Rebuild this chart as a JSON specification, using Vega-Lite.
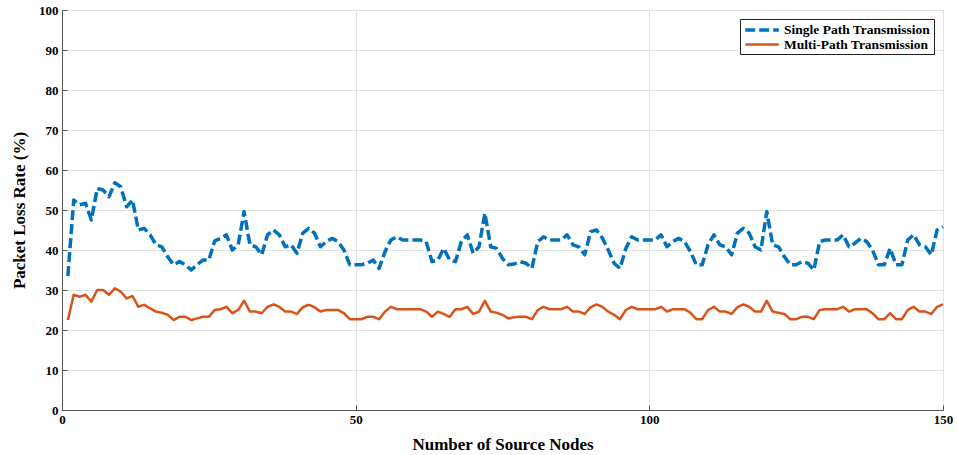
{
  "$schema": "https://vega.github.io/schema/vega-lite/v6.json",
  "autosize": "none",
  "width": 881,
  "height": 400,
  "padding": {"left": 62, "top": 10, "right": 15, "bottom": 45},
  "background": "white",
  "config": {
    "view": {"stroke": "#555555", "strokeWidth": 1},
    "font": "Liberation Serif",
    "axis": {
      "labelFont": "Liberation Serif", "labelFontWeight": "bold", "labelFontSize": 13, "labelColor": "#000000",
      "titleFont": "Liberation Serif", "titleFontWeight": "bold", "titleFontSize": 17, "titleColor": "#000000",
      "domainColor": "#555555", "tickColor": "#555555", "gridColor": "#e3e3e3", "gridWidth": 1
    },
    "legend": {
      "labelFont": "Liberation Serif", "labelFontWeight": "bold", "labelFontSize": 13.5, "labelColor": "#000000"
    }
  },
  "data": {
    "values": [
      {"n":1,"Single Path Transmission":33.5,"Multi-Path Transmission":22.5},
      {"n":2,"Single Path Transmission":52.5,"Multi-Path Transmission":28.8},
      {"n":3,"Single Path Transmission":51.3,"Multi-Path Transmission":28.3},
      {"n":4,"Single Path Transmission":51.7,"Multi-Path Transmission":28.8},
      {"n":5,"Single Path Transmission":47.5,"Multi-Path Transmission":27.1},
      {"n":6,"Single Path Transmission":55.4,"Multi-Path Transmission":30},
      {"n":7,"Single Path Transmission":55,"Multi-Path Transmission":30},
      {"n":8,"Single Path Transmission":53.3,"Multi-Path Transmission":28.8},
      {"n":9,"Single Path Transmission":56.8,"Multi-Path Transmission":30.4},
      {"n":10,"Single Path Transmission":55.8,"Multi-Path Transmission":29.6},
      {"n":11,"Single Path Transmission":50.8,"Multi-Path Transmission":27.9},
      {"n":12,"Single Path Transmission":52.5,"Multi-Path Transmission":28.5},
      {"n":13,"Single Path Transmission":45,"Multi-Path Transmission":25.8},
      {"n":14,"Single Path Transmission":45.4,"Multi-Path Transmission":26.3},
      {"n":15,"Single Path Transmission":43.8,"Multi-Path Transmission":25.4},
      {"n":16,"Single Path Transmission":41.3,"Multi-Path Transmission":24.6},
      {"n":17,"Single Path Transmission":40.8,"Multi-Path Transmission":24.3},
      {"n":18,"Single Path Transmission":38.3,"Multi-Path Transmission":23.8},
      {"n":19,"Single Path Transmission":36.3,"Multi-Path Transmission":22.5},
      {"n":20,"Single Path Transmission":37.1,"Multi-Path Transmission":23.3},
      {"n":21,"Single Path Transmission":36.3,"Multi-Path Transmission":23.3},
      {"n":22,"Single Path Transmission":35,"Multi-Path Transmission":22.5},
      {"n":23,"Single Path Transmission":36.3,"Multi-Path Transmission":22.9},
      {"n":24,"Single Path Transmission":37.5,"Multi-Path Transmission":23.3},
      {"n":25,"Single Path Transmission":37.5,"Multi-Path Transmission":23.3},
      {"n":26,"Single Path Transmission":42.3,"Multi-Path Transmission":25},
      {"n":27,"Single Path Transmission":42.9,"Multi-Path Transmission":25.2},
      {"n":28,"Single Path Transmission":43.8,"Multi-Path Transmission":25.8},
      {"n":29,"Single Path Transmission":40,"Multi-Path Transmission":24.2},
      {"n":30,"Single Path Transmission":41.3,"Multi-Path Transmission":25},
      {"n":31,"Single Path Transmission":49.6,"Multi-Path Transmission":27.3},
      {"n":32,"Single Path Transmission":41.3,"Multi-Path Transmission":24.6},
      {"n":33,"Single Path Transmission":40.8,"Multi-Path Transmission":24.6},
      {"n":34,"Single Path Transmission":38.8,"Multi-Path Transmission":24.2},
      {"n":35,"Single Path Transmission":43.8,"Multi-Path Transmission":25.8},
      {"n":36,"Single Path Transmission":45,"Multi-Path Transmission":26.4},
      {"n":37,"Single Path Transmission":43.8,"Multi-Path Transmission":25.8},
      {"n":38,"Single Path Transmission":40.8,"Multi-Path Transmission":24.6},
      {"n":39,"Single Path Transmission":41.3,"Multi-Path Transmission":24.6},
      {"n":40,"Single Path Transmission":39.2,"Multi-Path Transmission":24},
      {"n":41,"Single Path Transmission":44.2,"Multi-Path Transmission":25.7},
      {"n":42,"Single Path Transmission":45.4,"Multi-Path Transmission":26.3},
      {"n":43,"Single Path Transmission":44.2,"Multi-Path Transmission":25.7},
      {"n":44,"Single Path Transmission":40.8,"Multi-Path Transmission":24.6},
      {"n":45,"Single Path Transmission":42.1,"Multi-Path Transmission":25},
      {"n":46,"Single Path Transmission":42.9,"Multi-Path Transmission":25},
      {"n":47,"Single Path Transmission":42.1,"Multi-Path Transmission":25},
      {"n":48,"Single Path Transmission":40,"Multi-Path Transmission":24.2},
      {"n":49,"Single Path Transmission":36.3,"Multi-Path Transmission":22.7},
      {"n":50,"Single Path Transmission":36.3,"Multi-Path Transmission":22.7},
      {"n":51,"Single Path Transmission":36.3,"Multi-Path Transmission":22.7},
      {"n":52,"Single Path Transmission":36.7,"Multi-Path Transmission":23.3},
      {"n":53,"Single Path Transmission":37.5,"Multi-Path Transmission":23.3},
      {"n":54,"Single Path Transmission":35.4,"Multi-Path Transmission":22.7},
      {"n":55,"Single Path Transmission":39.6,"Multi-Path Transmission":24.6},
      {"n":56,"Single Path Transmission":42.5,"Multi-Path Transmission":25.8},
      {"n":57,"Single Path Transmission":43.3,"Multi-Path Transmission":25.2},
      {"n":58,"Single Path Transmission":42.5,"Multi-Path Transmission":25.2},
      {"n":59,"Single Path Transmission":42.5,"Multi-Path Transmission":25.2},
      {"n":60,"Single Path Transmission":42.5,"Multi-Path Transmission":25.2},
      {"n":61,"Single Path Transmission":42.5,"Multi-Path Transmission":25.2},
      {"n":62,"Single Path Transmission":42.1,"Multi-Path Transmission":24.6},
      {"n":63,"Single Path Transmission":37.1,"Multi-Path Transmission":23.3},
      {"n":64,"Single Path Transmission":37.5,"Multi-Path Transmission":24.6},
      {"n":65,"Single Path Transmission":40.4,"Multi-Path Transmission":24},
      {"n":66,"Single Path Transmission":37.5,"Multi-Path Transmission":23.3},
      {"n":67,"Single Path Transmission":37.1,"Multi-Path Transmission":25.2},
      {"n":68,"Single Path Transmission":42.1,"Multi-Path Transmission":25.2},
      {"n":69,"Single Path Transmission":43.8,"Multi-Path Transmission":25.8},
      {"n":70,"Single Path Transmission":39.2,"Multi-Path Transmission":24},
      {"n":71,"Single Path Transmission":40.8,"Multi-Path Transmission":24.6},
      {"n":72,"Single Path Transmission":49.2,"Multi-Path Transmission":27.3},
      {"n":73,"Single Path Transmission":40.8,"Multi-Path Transmission":24.6},
      {"n":74,"Single Path Transmission":40.4,"Multi-Path Transmission":24.3},
      {"n":75,"Single Path Transmission":37.9,"Multi-Path Transmission":23.8},
      {"n":76,"Single Path Transmission":36.3,"Multi-Path Transmission":22.9},
      {"n":77,"Single Path Transmission":36.5,"Multi-Path Transmission":23.2},
      {"n":78,"Single Path Transmission":37.1,"Multi-Path Transmission":23.3},
      {"n":79,"Single Path Transmission":36.7,"Multi-Path Transmission":23.3},
      {"n":80,"Single Path Transmission":35.4,"Multi-Path Transmission":22.7},
      {"n":81,"Single Path Transmission":42.1,"Multi-Path Transmission":25},
      {"n":82,"Single Path Transmission":43.3,"Multi-Path Transmission":25.8},
      {"n":83,"Single Path Transmission":42.5,"Multi-Path Transmission":25.2},
      {"n":84,"Single Path Transmission":42.5,"Multi-Path Transmission":25.2},
      {"n":85,"Single Path Transmission":42.5,"Multi-Path Transmission":25.2},
      {"n":86,"Single Path Transmission":43.8,"Multi-Path Transmission":25.8},
      {"n":87,"Single Path Transmission":41.3,"Multi-Path Transmission":24.6},
      {"n":88,"Single Path Transmission":40.8,"Multi-Path Transmission":24.6},
      {"n":89,"Single Path Transmission":38.8,"Multi-Path Transmission":24},
      {"n":90,"Single Path Transmission":44.6,"Multi-Path Transmission":25.7},
      {"n":91,"Single Path Transmission":45,"Multi-Path Transmission":26.4},
      {"n":92,"Single Path Transmission":43,"Multi-Path Transmission":25.8},
      {"n":93,"Single Path Transmission":40,"Multi-Path Transmission":24.6},
      {"n":94,"Single Path Transmission":36.7,"Multi-Path Transmission":23.8},
      {"n":95,"Single Path Transmission":35.4,"Multi-Path Transmission":22.7},
      {"n":96,"Single Path Transmission":40.4,"Multi-Path Transmission":25},
      {"n":97,"Single Path Transmission":43.3,"Multi-Path Transmission":25.8},
      {"n":98,"Single Path Transmission":42.5,"Multi-Path Transmission":25.2},
      {"n":99,"Single Path Transmission":42.5,"Multi-Path Transmission":25.2},
      {"n":100,"Single Path Transmission":42.5,"Multi-Path Transmission":25.2},
      {"n":101,"Single Path Transmission":42.5,"Multi-Path Transmission":25.2},
      {"n":102,"Single Path Transmission":43.8,"Multi-Path Transmission":25.8},
      {"n":103,"Single Path Transmission":40.8,"Multi-Path Transmission":24.6},
      {"n":104,"Single Path Transmission":42.1,"Multi-Path Transmission":25.2},
      {"n":105,"Single Path Transmission":42.9,"Multi-Path Transmission":25.2},
      {"n":106,"Single Path Transmission":42.1,"Multi-Path Transmission":25.2},
      {"n":107,"Single Path Transmission":39.6,"Multi-Path Transmission":24.3},
      {"n":108,"Single Path Transmission":36.3,"Multi-Path Transmission":22.7},
      {"n":109,"Single Path Transmission":36.3,"Multi-Path Transmission":22.7},
      {"n":110,"Single Path Transmission":41.3,"Multi-Path Transmission":25},
      {"n":111,"Single Path Transmission":43.8,"Multi-Path Transmission":25.8},
      {"n":112,"Single Path Transmission":41.3,"Multi-Path Transmission":24.6},
      {"n":113,"Single Path Transmission":40.8,"Multi-Path Transmission":24.6},
      {"n":114,"Single Path Transmission":38.8,"Multi-Path Transmission":24},
      {"n":115,"Single Path Transmission":44.2,"Multi-Path Transmission":25.7},
      {"n":116,"Single Path Transmission":45.4,"Multi-Path Transmission":26.4},
      {"n":117,"Single Path Transmission":44.2,"Multi-Path Transmission":25.8},
      {"n":118,"Single Path Transmission":40.8,"Multi-Path Transmission":24.6},
      {"n":119,"Single Path Transmission":40,"Multi-Path Transmission":24.6},
      {"n":120,"Single Path Transmission":49.6,"Multi-Path Transmission":27.3},
      {"n":121,"Single Path Transmission":41.3,"Multi-Path Transmission":24.6},
      {"n":122,"Single Path Transmission":40.8,"Multi-Path Transmission":24.3},
      {"n":123,"Single Path Transmission":38.3,"Multi-Path Transmission":24},
      {"n":124,"Single Path Transmission":36.3,"Multi-Path Transmission":22.7},
      {"n":125,"Single Path Transmission":36.3,"Multi-Path Transmission":22.7},
      {"n":126,"Single Path Transmission":37.1,"Multi-Path Transmission":23.3},
      {"n":127,"Single Path Transmission":36.7,"Multi-Path Transmission":23.3},
      {"n":128,"Single Path Transmission":35,"Multi-Path Transmission":22.7},
      {"n":129,"Single Path Transmission":42.1,"Multi-Path Transmission":25},
      {"n":130,"Single Path Transmission":42.5,"Multi-Path Transmission":25.2},
      {"n":131,"Single Path Transmission":42.5,"Multi-Path Transmission":25.2},
      {"n":132,"Single Path Transmission":42.5,"Multi-Path Transmission":25.2},
      {"n":133,"Single Path Transmission":43.8,"Multi-Path Transmission":25.8},
      {"n":134,"Single Path Transmission":40.8,"Multi-Path Transmission":24.6},
      {"n":135,"Single Path Transmission":41.7,"Multi-Path Transmission":25.2},
      {"n":136,"Single Path Transmission":42.9,"Multi-Path Transmission":25.2},
      {"n":137,"Single Path Transmission":42.1,"Multi-Path Transmission":25.2},
      {"n":138,"Single Path Transmission":40,"Multi-Path Transmission":24.2},
      {"n":139,"Single Path Transmission":36.3,"Multi-Path Transmission":22.7},
      {"n":140,"Single Path Transmission":36.3,"Multi-Path Transmission":22.7},
      {"n":141,"Single Path Transmission":40.4,"Multi-Path Transmission":24.2},
      {"n":142,"Single Path Transmission":36.3,"Multi-Path Transmission":22.7},
      {"n":143,"Single Path Transmission":36.3,"Multi-Path Transmission":22.7},
      {"n":144,"Single Path Transmission":42.5,"Multi-Path Transmission":25},
      {"n":145,"Single Path Transmission":43.8,"Multi-Path Transmission":25.8},
      {"n":146,"Single Path Transmission":41.3,"Multi-Path Transmission":24.6},
      {"n":147,"Single Path Transmission":40.8,"Multi-Path Transmission":24.6},
      {"n":148,"Single Path Transmission":38.8,"Multi-Path Transmission":24},
      {"n":149,"Single Path Transmission":45,"Multi-Path Transmission":25.8},
      {"n":150,"Single Path Transmission":45.8,"Multi-Path Transmission":26.4}
    ]
  },
  "transform": [
    {"fold": ["Single Path Transmission", "Multi-Path Transmission"], "as": ["series", "v"]}
  ],
  "mark": {"type": "line", "strokeCap": "butt", "strokeJoin": "round"},
  "encoding": {
    "x": {
      "field": "n", "type": "quantitative",
      "scale": {"domain": [0, 150], "nice": false},
      "axis": {"title": "Number of Source Nodes", "values": [0, 50, 100, 150], "tickSize": -5, "labelPadding": 8, "titlePadding": 10, "labelFlush": false}
    },
    "y": {
      "field": "v", "type": "quantitative",
      "scale": {"domain": [0, 100], "nice": false},
      "axis": {"title": "Packet Loss Rate (%)", "values": [0,10,20,30,40,50,60,70,80,90,100], "tickSize": -5, "labelPadding": 9, "titlePadding": 10}
    },
    "color": {
      "field": "series", "type": "nominal",
      "scale": {"domain": ["Single Path Transmission", "Multi-Path Transmission"], "range": ["#0072BD", "#D95319"]},
      "legend": {
        "title": null, "orient": "top-right", "offset": 9,
        "strokeColor": "#222222", "fillColor": "white", "padding": 3, "rowPadding": 0,
        "symbolType": "M-2.8,0H2.8", "symbolSize": 144, "symbolStrokeWidth": 3, "symbolOffset": 11, "labelOffset": 14
      }
    },
    "strokeDash": {
      "field": "series", "type": "nominal",
      "scale": {"domain": ["Single Path Transmission", "Multi-Path Transmission"], "range": [[10, 4], [1, 0]]},
      "legend": null
    },
    "strokeWidth": {
      "field": "series", "type": "nominal",
      "scale": {"domain": ["Single Path Transmission", "Multi-Path Transmission"], "range": [3.5, 2.5]},
      "legend": null
    }
  }
}
